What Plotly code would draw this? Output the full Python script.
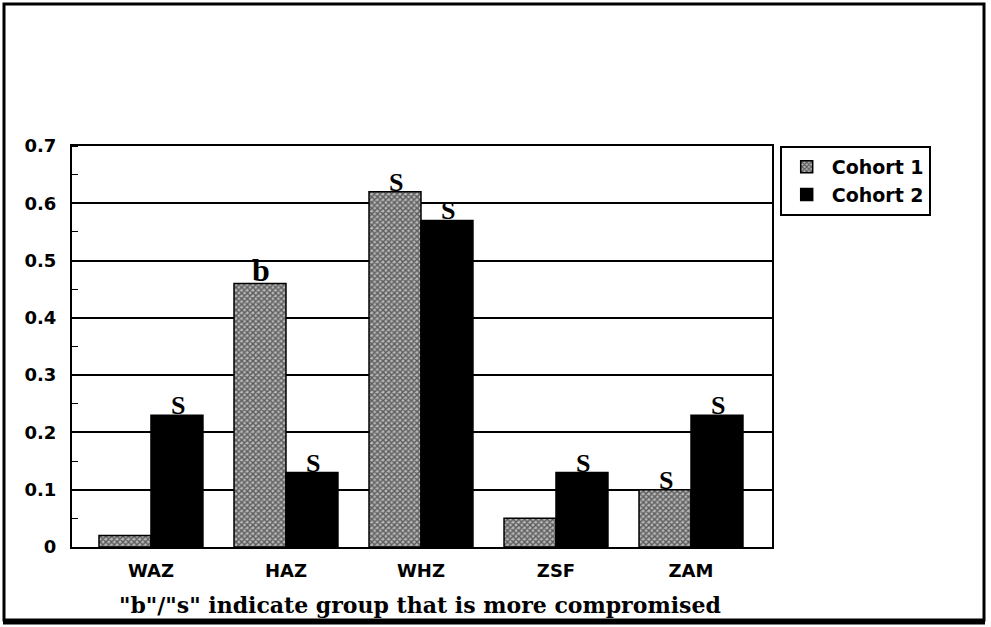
import plotly.graph_objects as go

categories = ["WAZ", "HAZ", "WHZ", "ZSF", "ZAM"]
cohort1 = [0.02, 0.46, 0.62, 0.05, 0.10]
cohort2 = [0.23, 0.13, 0.57, 0.13, 0.23]
label1 = ["", "b", "S", "", "S"]
label2 = ["S", "S", "S", "S", "S"]
yticks = [0, 0.1, 0.2, 0.3, 0.4, 0.5, 0.6, 0.7]
ytick_text = ["0", "0.1", "0.2", "0.3", "0.4", "0.5", "0.6", "0.7"]
footnote = '"b"/"s" indicate group that is more compromised'

SANS = "DejaVu Sans, Arial, sans-serif"
SERIF = "Liberation Serif, Times New Roman, serif"
WSERIF = "DejaVu Serif, serif"

fig = go.Figure()
fig.add_trace(go.Bar(
    name="Cohort 1", x=categories, y=cohort1,
    marker=dict(color="#888888", line=dict(color="black", width=1.5),
                pattern=dict(shape="x", size=4, solidity=0.6,
                             fgcolor="black", bgcolor="#b8b8b8")),
))
fig.add_trace(go.Bar(
    name="Cohort 2", x=categories, y=cohort2,
    marker=dict(color="black", line=dict(color="black", width=1.5)),
))

# letters above bars
for i, (c, v1, v2, l1, l2) in enumerate(zip(categories, cohort1, cohort2, label1, label2)):
    if l1:
        fig.add_annotation(x=i, y=v1, xshift=-25, text=f"<b>{l1}</b>", showarrow=False,
                           yanchor="bottom", yshift=-7,
                           font=dict(family=SERIF, size=32 if l1 == "b" else 26, color="black"))
    if l2:
        fig.add_annotation(x=i, y=v2, xshift=27, text=f"<b>{l2}</b>", showarrow=False,
                           yanchor="bottom", yshift=-7,
                           font=dict(family=SERIF, size=26, color="black"))

fig.add_annotation(x=0.497, y=-0.145, xref="paper", yref="paper", text=f"<b>{footnote}</b>",
                   showarrow=False, yanchor="middle",
                   font=dict(family=WSERIF, size=22, color="black"))

# outer frame
W, H = 991, 627
L, R, T, B = 72, 219, 146, 80
pw, ph = W - L - R, H - T - B
def px(x):
    return (x - L) / pw
def py(y):
    return (H - B - y) / ph
fig.add_shape(type="rect", xref="paper", yref="paper",
              x0=px(4), x1=px(984), y0=py(620), y1=py(4),
              line=dict(color="black", width=3))
fig.add_shape(type="line", xref="paper", yref="paper",
              x0=px(3), x1=px(985), y0=py(622), y1=py(622),
              line=dict(color="black", width=5))

fig.update_layout(
    width=W, height=H,
    margin=dict(l=L, r=R, t=T, b=B),
    paper_bgcolor="white", plot_bgcolor="white",
    barmode="group", bargap=0.23, bargroupgap=0,
    font=dict(family=SANS, color="black"),
    legend=dict(x=1.011, y=1.0, xanchor="left", yanchor="top",
                bordercolor="black", borderwidth=2,
                font=dict(family=SANS, size=19, color="black", weight="bold"),
                itemwidth=40, tracegroupgap=0, entrywidth=190, entrywidthmode="pixels"),
    xaxis=dict(range=[-0.585, 4.6], showline=True, linecolor="black", linewidth=2,
               mirror=True, ticks="", ticklabelstandoff=6,
               tickfont=dict(family=SANS, size=18, color="black", weight="bold"),
               showgrid=False),
    yaxis=dict(range=[0, 0.7], tickvals=yticks, ticktext=ytick_text,
               showline=True, linecolor="black", linewidth=2, mirror=True,
               showgrid=True, gridcolor="black", gridwidth=2,
               ticks="", ticklabelstandoff=10,
               tickfont=dict(family=SANS, size=18, color="black", weight="bold"),
               minor=dict(dtick=0.05, ticks="inside", ticklen=6, tickcolor="black",
                          showgrid=False),
               zeroline=False),
)

fig.write_html("out.html", config={"displayModeBar": False},
               post_script="document.body.style.margin='0';document.body.style.overflow='hidden';")
